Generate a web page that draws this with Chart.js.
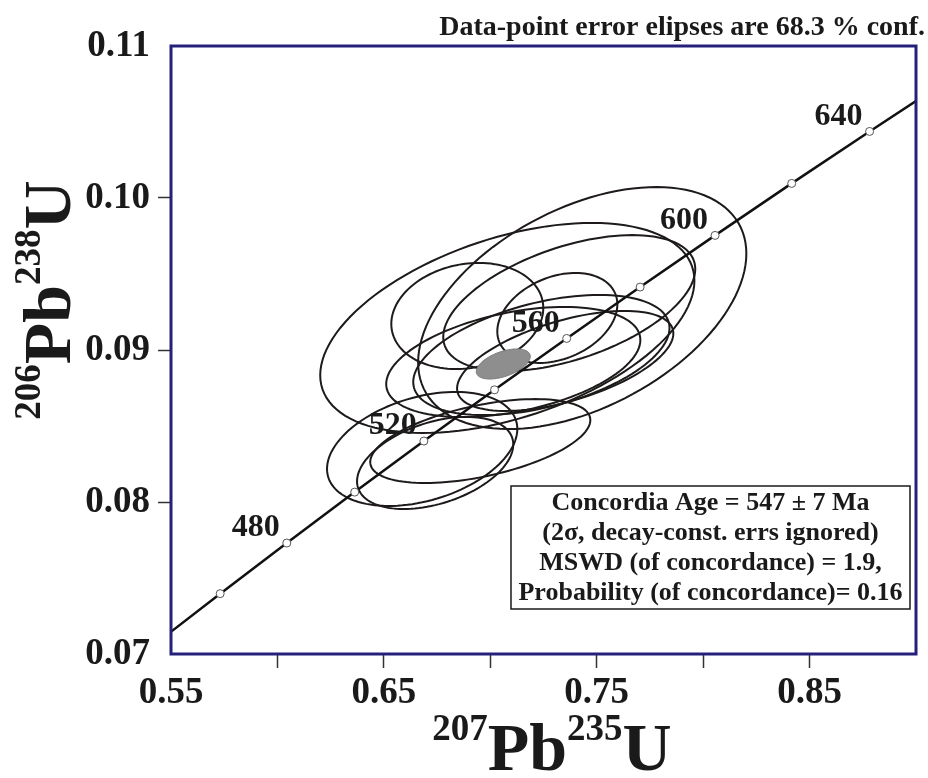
<!DOCTYPE html>
<html>
<head>
    <title>Concordia diagram</title>
    <style>
        body { margin: 0px; background-color: #ffffff; }
    </style>
    <script src="https://cdn.jsdelivr.net/npm/chart.js"></script>
</head>
<body>
    <canvas id="myChart" width="928" height="778"></canvas>
<script>
// concordia curve points (age in Ma, 207Pb/235U, 206Pb/238U)
const concAge = [440, 460, 480, 500, 520, 540, 560, 580, 600, 620, 640, 660];
const concX = [0.5424, 0.5731, 0.6044, 0.6363, 0.6688, 0.7020, 0.7359, 0.7704, 0.8056, 0.8416, 0.8782, 0.9155];
const concY = [0.07064, 0.07397, 0.07730, 0.08065, 0.08401, 0.08738, 0.09076, 0.09414, 0.09754, 0.10096, 0.10438, 0.10781];
// ages that get a number next to the dot
const labelAges = [480, 520, 560, 600, 640];

// data-point error ellipses: centre, half width / half height (data units), correlation
const ellX   = [0.7432, 0.7080, 0.7371, 0.6892, 0.6680, 0.6741, 0.6953, 0.7315, 0.7108, 0.7240, 0.7352];
const ellY   = [0.09276, 0.09145, 0.09309, 0.09224, 0.08349, 0.08257, 0.08401, 0.09211, 0.08921, 0.08967, 0.08928];
const ellSx  = [0.0771, 0.0879, 0.0592, 0.0357, 0.0447, 0.0367, 0.0517, 0.0282, 0.0597, 0.0602, 0.0508];
const ellSy  = [0.00796, 0.00691, 0.00447, 0.00349, 0.00375, 0.00303, 0.00276, 0.00296, 0.00362, 0.00395, 0.00329];
const ellRho = [0.45, 0.45, 0.50, 0.15, 0.35, 0.40, 0.50, 0.30, 0.40, 0.45, 0.55];

// concordia age ellipse (grey)
const ageEll = { x: 0.7061, y: 0.08908, sx: 0.0127, sy: 0.00099, rho: 0.5 };

const xTicks = [0.55, 0.65, 0.75, 0.85];
const yTicks = [0.07, 0.08, 0.09, 0.10, 0.11];

const boxLines = [
    'Concordia Age = 547 \u00b1 7 Ma',
    '(2\u03c3, decay-const. errs ignored)',
    'MSWD (of concordance) = 1.9,',
    'Probability (of concordance)= 0.16'
];
const noteText = 'Data-point error elipses are 68.3 % conf.';

const serif = "'Liberation Serif', 'Times New Roman', serif";
const navy = '#25217a';

function ellipsePath(ctx, xs, ys, cx, cy, sx, sy, rho) {
    const k = Math.sqrt(1 - rho * rho);
    ctx.beginPath();
    for (let i = 0; i <= 120; i++) {
        const t = i / 120 * Math.PI * 2;
        const px = xs.getPixelForValue(cx + sx * Math.cos(t));
        const py = ys.getPixelForValue(cy + sy * (rho * Math.cos(t) + k * Math.sin(t)));
        if (i === 0) ctx.moveTo(px, py); else ctx.lineTo(px, py);
    }
    ctx.closePath();
}

// draws "207Pb235U" style text centred on x
function isoText(ctx, parts, x, y) {
    const big = 'bold 68px ' + serif;
    const small = 'bold 37px ' + serif;
    let w = 0;
    parts.forEach(p => { ctx.font = p.sup ? small : big; w += ctx.measureText(p.t).width; });
    let cx = x - w / 2;
    ctx.textAlign = 'left';
    ctx.textBaseline = 'alphabetic';
    parts.forEach(p => {
        ctx.font = p.sup ? small : big;
        ctx.fillText(p.t, cx, p.sup ? y - 30 : y);
        cx += ctx.measureText(p.t).width;
    });
}

const ellipsePlugin = {
    id: 'ellipses',
    beforeDatasetsDraw(chart) {
        const ctx = chart.ctx, a = chart.chartArea;
        const xs = chart.scales.x, ys = chart.scales.y;
        ctx.save();
        ctx.beginPath();
        ctx.rect(a.left, a.top, a.right - a.left, a.bottom - a.top);
        ctx.clip();
        ctx.strokeStyle = '#1e1a1a';
        ctx.lineWidth = 2;
        for (let i = 0; i < ellX.length; i++) {
            ellipsePath(ctx, xs, ys, ellX[i], ellY[i], ellSx[i], ellSy[i], ellRho[i]);
            ctx.stroke();
        }
        ellipsePath(ctx, xs, ys, ageEll.x, ageEll.y, ageEll.sx, ageEll.sy, ageEll.rho);
        ctx.fillStyle = '#8e8e8e';
        ctx.fill();
        ctx.strokeStyle = '#7a7a7a';
        ctx.lineWidth = 1;
        ctx.stroke();
        ctx.restore();
    },
    afterDatasetsDraw(chart) {
        const ctx = chart.ctx, a = chart.chartArea;
        const xs = chart.scales.x, ys = chart.scales.y;
        ctx.save();
        // age labels
        ctx.fillStyle = '#1a1a1a';
        ctx.font = 'bold 32px ' + serif;
        ctx.textAlign = 'center';
        ctx.textBaseline = 'middle';
        labelAges.forEach(age => {
            const i = concAge.indexOf(age);
            ctx.fillText(String(age), xs.getPixelForValue(concX[i]) - 31, ys.getPixelForValue(concY[i]) - 15);
        });
        // plot frame
        ctx.strokeStyle = navy;
        ctx.lineWidth = 3;
        ctx.strokeRect(a.left, a.top, a.right - a.left, a.bottom - a.top);
        // result box
        const bx = 511, by = 486, bw = 399, bh = 123;
        ctx.fillStyle = '#ffffff';
        ctx.fillRect(bx, by, bw, bh);
        ctx.strokeStyle = '#1a1a1a';
        ctx.lineWidth = 1.5;
        ctx.strokeRect(bx, by, bw, bh);
        ctx.fillStyle = '#1a1a1a';
        ctx.font = 'bold 26px ' + serif;
        boxLines.forEach((t, i) => ctx.fillText(t, bx + bw / 2, by + 17 + i * 30));
        // note above the plot
        ctx.textAlign = 'right';
        ctx.font = 'bold 28px ' + serif;
        ctx.fillText(noteText, 925, 28);
        // axis titles
        isoText(ctx, [{t: '207', sup: true}, {t: 'Pb', sup: false}, {t: '235', sup: true}, {t: 'U', sup: false}], 552, 770);
        ctx.translate(70, 300);
        ctx.rotate(-Math.PI / 2);
        isoText(ctx, [{t: '206', sup: true}, {t: 'Pb', sup: false}, {t: '238', sup: true}, {t: 'U', sup: false}], 0, 0);
        ctx.restore();
    }
};

const ctx = document.getElementById('myChart').getContext('2d');
const dotAges = concAge.filter(a => a >= 460 && a <= 640);

new Chart(ctx, {
    type: 'scatter',
    data: {
        datasets: [{
            label: 'Concordia',
            data: concAge.map((a, i) => ({ x: concX[i], y: concY[i] })),
            showLine: true,
            borderColor: '#111111',
            borderWidth: 2.5,
            pointRadius: 0,
            order: 2
        }, {
            label: 'Age marks',
            data: dotAges.map(a => ({ x: concX[concAge.indexOf(a)], y: concY[concAge.indexOf(a)] })),
            pointRadius: 4,
            pointBackgroundColor: '#ffffff',
            pointBorderColor: '#555555',
            pointBorderWidth: 1,
            order: 1
        }]
    },
    options: {
        responsive: false,
        animation: false,
        layout: { padding: { top: 46, right: 12, left: 0, bottom: 0 } },
        plugins: {
            legend: { display: false },
            tooltip: { enabled: false }
        },
        scales: {
            x: {
                type: 'linear',
                min: 0.55,
                max: 0.90,
                afterFit: s => { s.height = 124; },
                afterBuildTicks: s => { s.ticks = [0.55, 0.60, 0.65, 0.70, 0.75, 0.80, 0.85, 0.90].map(v => ({ value: v })); },
                border: { display: false },
                grid: {
                    drawOnChartArea: false,
                    tickLength: 14,
                    tickWidth: 1.5,
                    tickColor: c => (c.tick && (c.tick.value < 0.56 || c.tick.value > 0.89)) ? 'rgba(0,0,0,0)' : '#333333'
                },
                ticks: {
                    autoSkip: false,
                    maxRotation: 0,
                    padding: 3,
                    color: '#1a1a1a',
                    font: { family: serif, size: 37, weight: 'bold' },
                    callback: v => xTicks.some(t => Math.abs(t - v) < 1e-6) ? v.toFixed(2) : ''
                }
            },
            y: {
                type: 'linear',
                min: 0.07,
                max: 0.11,
                afterFit: s => { s.width = 171; },
                afterBuildTicks: s => { s.ticks = yTicks.map(v => ({ value: v })); },
                border: { display: false },
                grid: {
                    drawOnChartArea: false,
                    tickLength: 13,
                    tickWidth: 1.5,
                    tickColor: c => (c.tick && (c.tick.value < 0.075 || c.tick.value > 0.105)) ? 'rgba(0,0,0,0)' : '#333333'
                },
                ticks: {
                    padding: 8,
                    color: '#1a1a1a',
                    font: { family: serif, size: 37, weight: 'bold' },
                    callback: v => v.toFixed(2)
                }
            }
        }
    },
    plugins: [ellipsePlugin]
});
</script>
</body>
</html>
